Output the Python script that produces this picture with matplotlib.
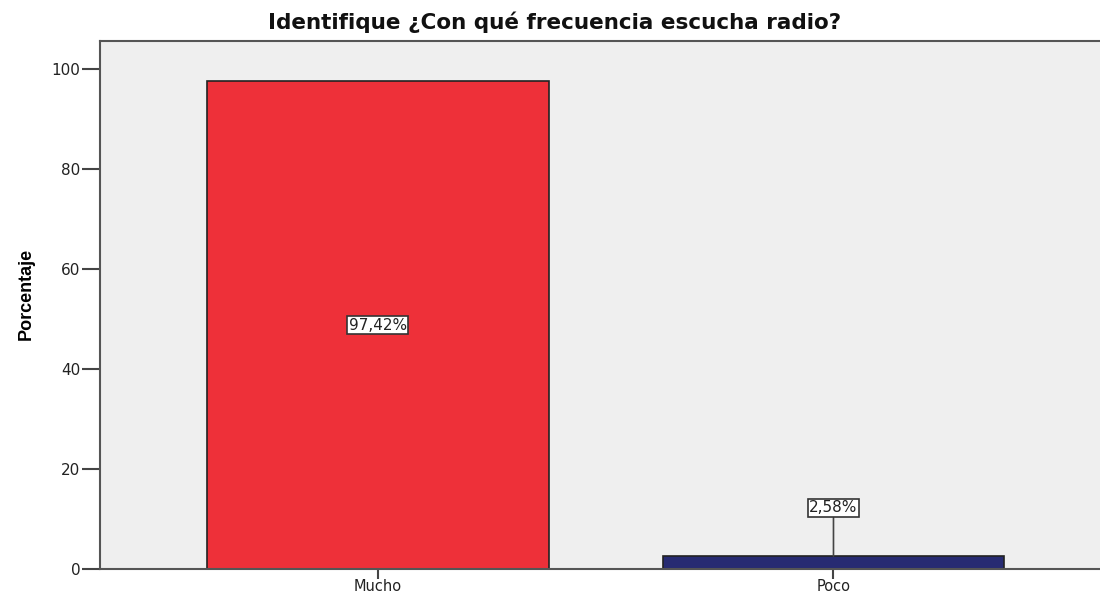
import matplotlib.pyplot as plt
from matplotlib import font_manager

categorias = ['Mucho', 'Poco']
porcentajes = [97.42, 2.58]
etiquetas = ['97,42%', '2,58%']
colores = ['#EE3039', '#272B72']

plt.rcParams['font.family'] = ['DejaVu Sans']

narrow = 'Liberation Sans Narrow'
nombres = {f.name for f in font_manager.fontManager.ttflist}
if narrow not in nombres:
    narrow = 'Liberation Sans'

fig = plt.figure(figsize=(11, 5.93), dpi=100)
ax = fig.add_axes([0.0909, 0.0405, 0.9091, 0.8904])
ax.set_facecolor('#EFEFEF')

x = list(range(len(categorias)))
ax.bar(x, porcentajes, width=0.75, color=colores, edgecolor='#222222', linewidth=1.2, zorder=2)

ax.set_xlim(-0.61, 1.585)
ax.set_ylim(0, 105.5)
ax.set_yticks([0, 20, 40, 60, 80, 100])
ax.set_xticks(x)
ax.set_xticklabels(categorias)
ax.tick_params(axis='y', length=13, width=1.5, color='#444444', labelsize=11, pad=1, labelcolor='#222222')
ax.tick_params(axis='x', length=7, width=1.5, color='#444444', labelsize=10.5, pad=0.5, labelcolor='#222222')

for lado in ['left', 'top', 'bottom']:
    ax.spines[lado].set_color('#555555')
    ax.spines[lado].set_linewidth(1.5)
ax.spines['right'].set_visible(False)

caja = dict(boxstyle='square,pad=0.1', facecolor='white', edgecolor='#333333', linewidth=1.2)
# etiqueta dentro de la barra grande
ax.text(x[0], porcentajes[0] / 2, etiquetas[0], ha='center', va='center', fontsize=11,
        color='#222222', bbox=caja, zorder=4)
# etiqueta con linea para la barra pequena
ax.annotate(etiquetas[1], xy=(x[1], porcentajes[1]), xytext=(x[1], 12.2),
            ha='center', va='center', fontsize=11, color='#222222', bbox=caja, zorder=4,
            arrowprops=dict(arrowstyle='-', color='#444444', linewidth=1.2, shrinkA=0, shrinkB=0))

ax.set_ylabel('Porcentaje', fontsize=13, fontweight='bold', family=narrow)
ax.yaxis.set_label_coords(-0.065, 0.52)

fig.text(555 / 1100, 1 - 22 / 593, 'Identifique ¿Con qué frecuencia escucha radio?',
         ha='center', va='center', fontsize=15.5, fontweight='bold', color='#111111')

fig.savefig('out.png', dpi=100)
